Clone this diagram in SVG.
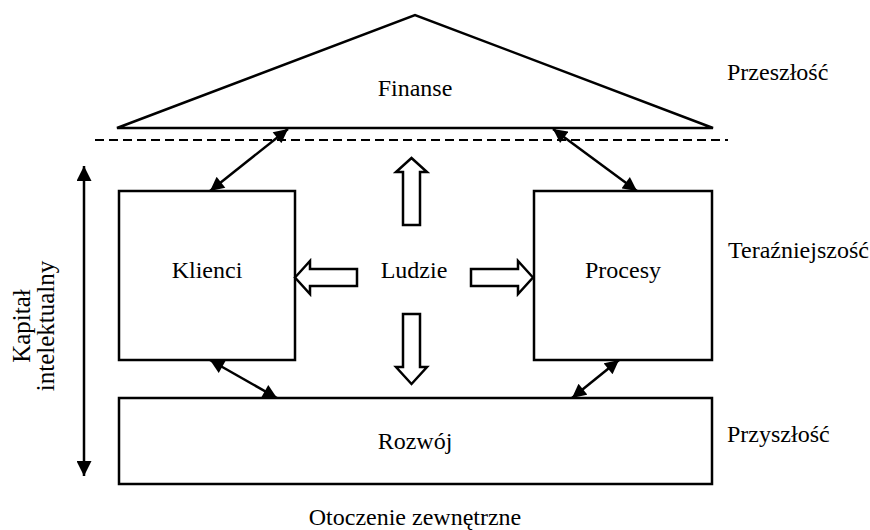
<svg xmlns="http://www.w3.org/2000/svg" width="870" height="530" viewBox="0 0 870 530">
<style>
.box{fill:#fff;stroke:#000;stroke-width:2.5}
.blk{fill:#fff;stroke:#000;stroke-width:2.5;stroke-linejoin:miter}
.t{font-family:"Liberation Serif","Times New Roman",serif;font-size:24px;fill:#000}
.v{font-size:25px}
.c{text-anchor:middle}
.con{stroke:#000;stroke-width:2.5;fill:none}
</style>
<defs>
<marker id="ah" viewBox="0 0 10 10" refX="10" refY="5" markerWidth="15" markerHeight="14" markerUnits="userSpaceOnUse" orient="auto-start-reverse">
<path d="M0,0 L10,5 L0,10 z" fill="#000"/>
</marker>
<marker id="ahv" viewBox="0 0 10 10" refX="10" refY="5" markerWidth="17" markerHeight="15" markerUnits="userSpaceOnUse" orient="auto-start-reverse">
<path d="M0,0 L10,5 L0,10 z" fill="#000"/>
</marker>
</defs>
<rect width="870" height="530" fill="#fff"/>
<g id="finanse">
<polygon class="box" points="117,128 415,15 713,128"/>
<text class="t c" x="415" y="96">Finanse</text>
</g>
<g id="klienci">
<rect class="box" x="119" y="191" width="176" height="169"/>
<text class="t c" x="207" y="278">Klienci</text>
</g>
<g id="procesy">
<rect class="box" x="534" y="191" width="178" height="169"/>
<text class="t c" x="623" y="278">Procesy</text>
</g>
<g id="rozwoj">
<rect class="box" x="119" y="398" width="593" height="86"/>
<text class="t c" x="415" y="449">Rozwój</text>
</g>
<g id="ludzie">
<text class="t c" x="414" y="278">Ludzie</text>
<polygon class="blk" points="411.5,158 427,172 420,172 420,225 403,225 403,172 396,172"/>
<polygon class="blk" points="411.5,384 427,367 420,367 420,314 403,314 403,367 396,367"/>
<polygon class="blk" points="295,277.5 310,261 310,269 357,269 357,286 310,286 310,294"/>
<polygon class="blk" points="533,277.5 518,261 518,269 471,269 471,286 518,286 518,294"/>
</g>
<g id="labels">
<text class="t" x="727" y="80">Przeszłość</text>
<text class="t" x="728" y="258">Teraźniejszość</text>
<text class="t" x="727" y="442">Przyszłość</text>
<text class="t c" x="415" y="525">Otoczenie zewnętrzne</text>
<text class="t v c" transform="translate(30,326) rotate(-90)" x="0" y="0">Kapitał</text>
<text class="t v c" transform="translate(54,326) rotate(-90)" x="0" y="0">intelektualny</text>
</g>
<g id="connectors">
<line x1="95" y1="140" x2="728" y2="140" stroke="#000" stroke-width="2" stroke-dasharray="9 5"/>
<line class="con" x1="288" y1="129" x2="210" y2="191" marker-start="url(#ah)" marker-end="url(#ah)"/>
<line class="con" x1="553" y1="129" x2="637" y2="191" marker-start="url(#ah)" marker-end="url(#ah)"/>
<line class="con" x1="210" y1="360" x2="277" y2="398" marker-start="url(#ah)" marker-end="url(#ah)"/>
<line class="con" x1="619" y1="360" x2="572" y2="398" marker-start="url(#ah)" marker-end="url(#ah)"/>
<line class="con" x1="84" y1="166" x2="84" y2="476" marker-start="url(#ahv)" marker-end="url(#ahv)"/>
</g>
</svg>
